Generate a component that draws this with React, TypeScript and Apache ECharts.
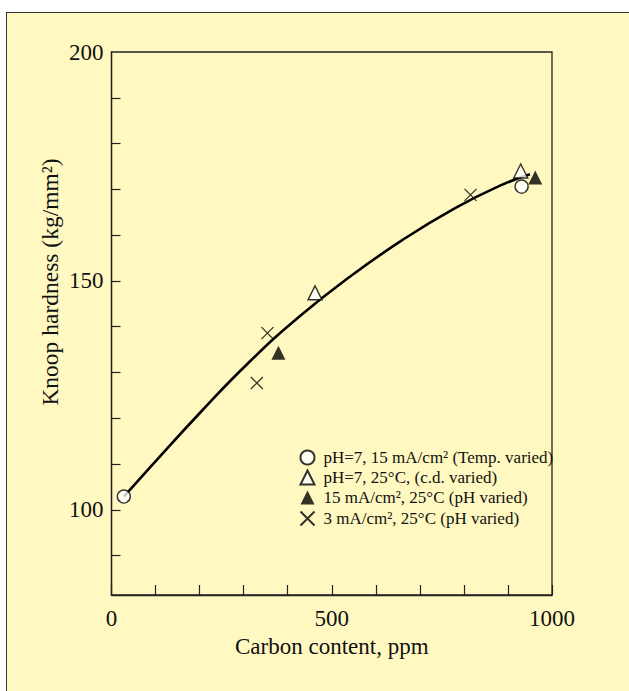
import React, { useEffect, useRef } from "react";
import * as echarts from "echarts";

const FONT = "'Liberation Serif', 'DejaVu Serif', serif";

// Fitted curve: [carbon ppm, hardness]
const curvePoints: [number, number][] = [
  [28, 102.9],
  [87, 109.2],
  [200, 121.1],
  [314, 132.4],
  [430, 142.5],
  [541, 150.9],
  [660, 158.9],
  [780, 165.9],
  [882, 170.8],
  [950, 173.3],
];

const tempVaried: [number, number][] = [
  [28, 102.9],
  [931, 170.6],
];
const cdVaried: [number, number][] = [
  [462, 147.4],
  [929, 174.0],
];
const phVaried15: [number, number][] = [
  [379, 134.3],
  [962, 172.6],
];
const phVaried3: [number, number][] = [
  [330, 127.7],
  [354, 138.6],
  [815, 168.8],
];

const seriesNames = [
  "pH=7, 15 mA/cm² (Temp. varied)",
  "pH=7, 25°C, (c.d. varied)",
  "15 mA/cm², 25°C (pH varied)",
  "3 mA/cm², 25°C (pH varied)",
];

const xLabelValues = [0, 500, 1000];
const yTickValues = [90, 100, 110, 120, 130, 140, 150, 160, 170, 180, 190];
const yLabelValues = [100, 150, 200];

const xTitle = "Carbon content, ppm";
const yTitle = "Knoop hardness (kg/mm²)";

const CROSS = "path://M0,0L10,10M10,0L0,10";

export default function App() {
  const ref = useRef<HTMLDivElement>(null);
  useEffect(() => {
    document.body.style.margin = "0";
    const chart = echarts.init(ref.current!, null, { renderer: "svg" });
    chart.setOption({
      animation: false,
      grid: {
        left: 111.5,
        top: 52,
        right: 77,
        bottom: 96,
        show: true,
        borderColor: "#222",
        borderWidth: 1.3,
        backgroundColor: "transparent",
      },
      legend: {
        orient: "vertical",
        left: 293,
        top: 444,
        itemWidth: 14,
        itemHeight: 14,
        itemGap: 3,
        textStyle: { fontFamily: FONT, fontSize: 17, color: "#111", padding: [0, 0, 0, 4] },
        data: seriesNames,
      },
      xAxis: {
        type: "value",
        min: 0,
        max: 1000,
        interval: 100,
        axisLine: { lineStyle: { color: "#222", width: 1.3 } },
        axisTick: { inside: true, length: 10, lineStyle: { color: "#222", width: 1.2 } },
        axisLabel: {
          customValues: xLabelValues,
          formatter: (v: number) => String(v),
          margin: 12,
          fontFamily: FONT,
          fontSize: 23,
          color: "#111",
        },
        splitLine: { show: false },
        name: xTitle,
        nameLocation: "middle",
        nameGap: 40,
        nameTextStyle: { fontFamily: FONT, fontSize: 23, color: "#111" },
      },
      yAxis: {
        type: "value",
        min: 81.4,
        max: 200,
        axisLine: { show: true, lineStyle: { color: "#222", width: 1.3 } },
        axisTick: {
          show: true,
          inside: true,
          length: 9,
          customValues: yTickValues,
          lineStyle: { color: "#222", width: 1.2 },
        },
        axisLabel: {
          customValues: yLabelValues,
          formatter: (v: number) => String(v),
          margin: 8,
          fontFamily: FONT,
          fontSize: 23,
          color: "#111",
        },
        splitLine: { show: false },
      },
      graphic: [
        {
          type: "text",
          x: 50,
          y: 282,
          rotation: Math.PI / 2,
          style: {
            text: yTitle,
            fontFamily: FONT,
            fontSize: 23.5,
            fill: "#111",
            align: "center",
            verticalAlign: "middle",
          },
        },
      ],
      series: [
        {
          name: "curve",
          type: "line",
          data: curvePoints,
          smooth: 0.5,
          showSymbol: false,
          symbol: "none",
          lineStyle: { color: "#000", width: 2.6 },
          z: 2,
        },
        {
          name: seriesNames[0],
          type: "scatter",
          data: tempVaried,
          symbol: "circle",
          symbolSize: 13,
          itemStyle: { color: "#fff", borderColor: "#000", borderWidth: 1.4 },
          z: 3,
        },
        {
          name: seriesNames[1],
          type: "scatter",
          data: cdVaried,
          symbol: "triangle",
          symbolSize: 14,
          itemStyle: { color: "#fff", borderColor: "#000", borderWidth: 1.4 },
          z: 3,
        },
        {
          name: seriesNames[2],
          type: "scatter",
          data: phVaried15,
          symbol: "triangle",
          symbolSize: 14,
          itemStyle: { color: "#000", borderColor: "#000", borderWidth: 0 },
          z: 3,
        },
        {
          name: seriesNames[3],
          type: "scatter",
          data: phVaried3,
          symbol: CROSS,
          symbolSize: 12,
          itemStyle: { color: "none", borderColor: "#000", borderWidth: 1.3 },
          z: 3,
        },
      ],
    });
    return () => chart.dispose();
  }, []);

  return (
    <div style={{ position: "relative", width: 629, height: 691, overflow: "hidden", background: "#fff" }}>
      <div
        style={{
          position: "absolute",
          left: 6,
          top: 12,
          width: 700,
          height: 700,
          background: "#FFF9C1",
          border: "1.5px solid #333",
        }}
      />
      <div ref={ref} style={{ position: "absolute", left: 0, top: 0, width: 629, height: 691 }} />
    </div>
  );
}
